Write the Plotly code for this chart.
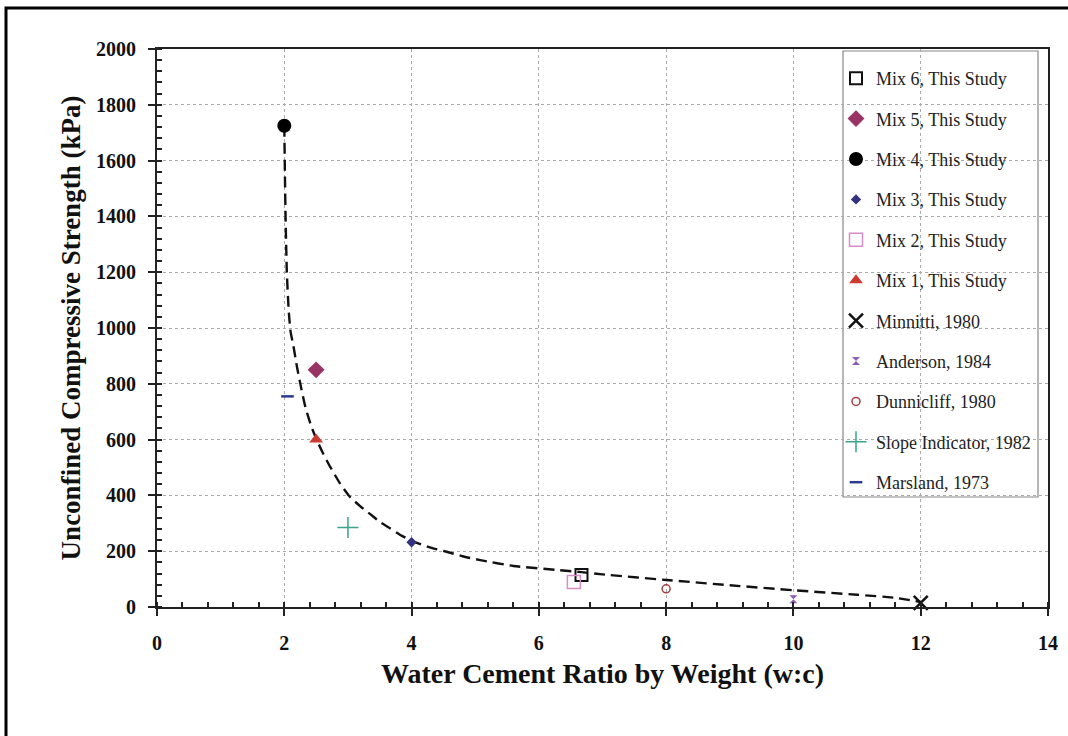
import plotly.graph_objects as go

# ---- data ----
series_names = ["Mix 6, This Study", "Mix 5, This Study", "Mix 4, This Study",
                "Mix 3, This Study", "Mix 2, This Study", "Mix 1, This Study",
                "Minnitti, 1980", "Anderson, 1984", "Dunnicliff, 1980",
                "Slope Indicator, 1982", "Marsland, 1973"]
series_x = [6.67, 2.5, 2.0, 4.0, 6.55, 2.5, 12.0, 10.0, 8.0, 3.0, 2.05]
series_y = [115, 850, 1725, 232, 90, 600, 15, 28, 65, 285, 755]

# dashed trend curve
curve_x = [2.0, 2.01, 2.02, 2.04, 2.07, 2.1, 2.14, 2.2, 2.27, 2.33, 2.42, 2.51,
           2.6, 2.72, 2.87, 3.03, 3.2, 3.35, 3.5, 3.66, 3.85, 4.03, 4.3, 4.55,
           4.8, 5.08, 5.6, 6.28, 6.67, 7.0, 8.0, 9.0, 10.0, 11.0, 11.6, 12.0]
curve_y = [1725, 1550, 1400, 1200, 1060, 985, 940, 860, 780, 718, 650, 599,
           555, 503, 445, 395, 360, 333, 305, 282, 255, 234, 213, 198,
           182, 168, 147, 133, 125, 117, 97, 78, 60, 44, 33, 18]

x_ticks = [0, 2, 4, 6, 8, 10, 12, 14]
y_ticks = [0, 200, 400, 600, 800, 1000, 1200, 1400, 1600, 1800, 2000]

# ---- styles ----
styles = [
    dict(symbol="square-open", color="#111111", size=12, lw=2),
    dict(symbol="diamond", color="#993366", size=13, lw=0),
    dict(symbol="circle", color="#000000", size=14, lw=0),
    dict(symbol="diamond", color="#333380", size=8, lw=0),
    dict(symbol="square-open", color="#d98cc8", size=13, lw=1.5),
    dict(symbol="triangle-up", color="#cc3a33", size=12, lw=0),
    dict(symbol="x-thin-open", color="#111111", size=14, lw=2.5),
    dict(symbol="hourglass", color="#8c5fb3", size=8, lw=0),
    dict(symbol="circle-open", color="#a04040", size=8, lw=1.5),
    dict(symbol="cross-thin-open", color="#3aa58a", size=15, lw=1.5),
    dict(symbol="line-ew-open", color="#2b3a8c", size=9, lw=2.5),
]

SERIF = "Liberation Serif, Times New Roman, serif"

fig = go.Figure()
fig.add_trace(go.Scatter(x=curve_x, y=curve_y, mode="lines", showlegend=False,
                         line=dict(color="#111111", width=2.4, dash="11px,6px",
                                   shape="spline", smoothing=0.5),
                         hoverinfo="skip"))
for i, name in enumerate(series_names):
    s = styles[i]
    fig.add_trace(go.Scatter(
        x=[series_x[i]], y=[series_y[i]], mode="markers", name=name,
        legendgroup=f"g{i}",
        marker=dict(symbol=s["symbol"], color=s["color"], size=s["size"],
                    line=dict(color=s["color"], width=s["lw"])),
        cliponaxis=False))

# geometry helpers (pixel -> paper) for decorative frame / legend box
L, R, T, B = 157, 1048, 49, 607
W, H = R - L, B - T
def px(x):
    return (x - L) / W
def py(y):
    return (B - y) / H

fig.update_layout(
    width=1068, height=736,
    margin=dict(l=L, r=1068 - R, t=T, b=736 - B, autoexpand=False),
    paper_bgcolor="white", plot_bgcolor="white",
    font=dict(family=SERIF, color="#111111"),
    showlegend=True,
    legend=dict(x=px(836), y=py(60), xanchor="left", yanchor="top",
                bgcolor="rgba(0,0,0,0)", borderwidth=0,
                font=dict(family=SERIF, size=18, color="#222222"),
                tracegroupgap=14, itemwidth=30),
    xaxis=dict(range=[0, 14], tickvals=x_ticks, ticktext=[str(v) for v in x_ticks],
               showline=True, linecolor="#222222", linewidth=2, mirror=True,
               ticks="outside", ticklen=7, tickwidth=2, tickcolor="#222222",
               ticklabelstandoff=10,
               tickfont=dict(family=SERIF, size=20, color="#111111", weight="bold"),
               minor=dict(dtick=0.4, ticks="inside", ticklen=5, tickwidth=1.5,
                          tickcolor="#222222", showgrid=False),
               showgrid=True, gridcolor="#aaaaaa", griddash="3px,3px", gridwidth=1,
               zeroline=False,
               title=dict(text="Water Cement Ratio by Weight (w:c)", standoff=10,
                          font=dict(family=SERIF, size=28, color="#111111", weight="bold"))),
    yaxis=dict(range=[0, 2000], tickvals=y_ticks, ticktext=[str(v) for v in y_ticks],
               showline=True, linecolor="#222222", linewidth=2, mirror=True,
               ticks="outside", ticklen=7, tickwidth=2, tickcolor="#222222",
               ticklabelstandoff=8,
               tickfont=dict(family=SERIF, size=20, color="#111111", weight="bold"),
               minor=dict(dtick=40, ticks="inside", ticklen=5, tickwidth=1.5,
                          tickcolor="#222222", showgrid=False),
               showgrid=True, gridcolor="#aaaaaa", griddash="3px,3px", gridwidth=1,
               zeroline=False,
               title=dict(text="Unconfined Compressive Strength (kPa)", standoff=8,
                          font=dict(family=SERIF, size=27, color="#111111", weight="bold"))),
    shapes=[
        dict(type="rect", xref="paper", yref="paper",
             x0=px(843), x1=px(1038), y0=py(497), y1=py(51),
             line=dict(color="#888888", width=1.2), fillcolor="white",
             layer="between"),
        dict(type="rect", xref="paper", yref="paper",
             x0=px(6), x1=px(1075), y0=py(742), y1=py(8),
             line=dict(color="black", width=3), fillcolor="rgba(0,0,0,0)",
             layer="above"),
    ],
)

fig.write_html("out.html")
